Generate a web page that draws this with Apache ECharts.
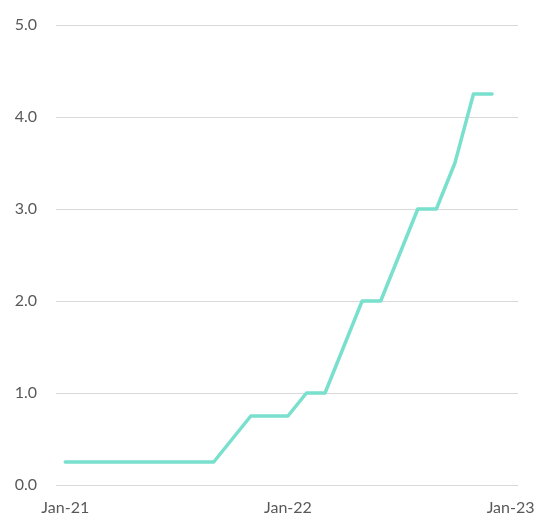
<!DOCTYPE html>
<html>
<head>
<meta charset="utf-8">
<script src="https://cdn.jsdelivr.net/npm/echarts@6/dist/echarts.min.js"></script>
<style>html,body{margin:0;padding:0;background:#fff}#c{width:538px;height:516px}</style>
</head>
<body>
<div id="c"></div>
<script>
const months = ['Jan-21','Feb-21','Mar-21','Apr-21','May-21','Jun-21','Jul-21','Aug-21','Sep-21','Oct-21','Nov-21','Dec-21',
  'Jan-22','Feb-22','Mar-22','Apr-22','May-22','Jun-22','Jul-22','Aug-22','Sep-22','Oct-22','Nov-22','Dec-22'];
const values = [0.25,0.25,0.25,0.25,0.25,0.25,0.25,0.25,0.25,0.5,0.75,0.75,
  0.75,1.0,1.0,1.5,2.0,2.0,2.5,3.0,3.0,3.5,4.25,4.25];
const xTickLabels = ['Jan-21','Jan-22','Jan-23'];
const xTickPositions = [0,12,24];

const chart = echarts.init(document.getElementById('c'), null, {renderer:'canvas'});
const font = "Lato, 'Open Sans', sans-serif";
chart.setOption({
  animation:false,
  grid:{left:56,right:20,top:25,bottom:29,containLabel:false},
  xAxis:{
    type:'value', min:-0.5, max:24.4,
    axisLine:{show:false}, axisTick:{show:false}, splitLine:{show:false},
    axisLabel:{
      customValues:xTickPositions,
      formatter:function(v){const i=xTickPositions.indexOf(v);return i>=0?xTickLabels[i]:'';},
      color:'#595959', fontSize:16, fontFamily:font, margin:15
    }
  },
  yAxis:{
    type:'value', min:0, max:5, interval:1,
    axisLine:{show:false}, axisTick:{show:false},
    splitLine:{lineStyle:{color:'#d9d9d9',width:1}},
    axisLabel:{formatter:v=>v.toFixed(1), color:'#595959', fontSize:16, fontFamily:font, margin:19}
  },
  series:[{
    type:'line',
    data:values.map((v,i)=>[i,v]),
    showSymbol:false, symbol:'none',
    lineStyle:{color:'#78e0cd',width:3.5,cap:'round',join:'round'}
  }]
});
</script>
</body>
</html>
